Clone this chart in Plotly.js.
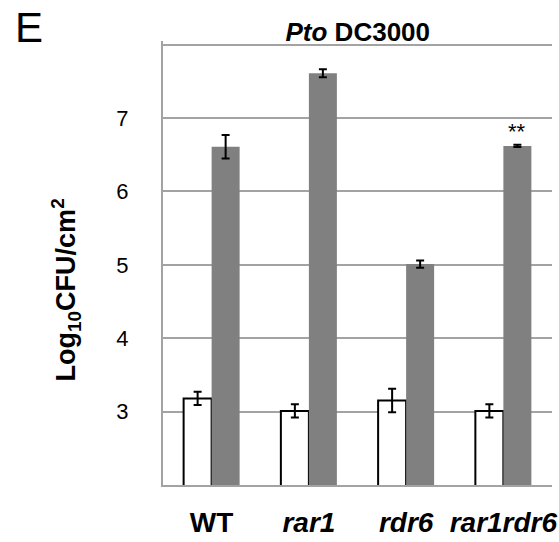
<!DOCTYPE html>
<html>
<head>
<meta charset="utf-8">
<script src="https://cdn.plot.ly/plotly-3.0.1.min.js"></script>
<style>html,body{margin:0;padding:0;background:#fff;}#chart{width:559px;height:542px;}</style>
</head>
<body>
<div id="chart"></div>
<script>
var categories = ['WT', 'rar1', 'rdr6', 'rar1rdr6'];
var tickLabels = ['<b>WT</b>', '<b><i>rar1</i></b>', '<b><i>rdr6</i></b>', '<b><i>rar1rdr6</i></b>'];
var day0Values = [3.18, 3.01, 3.15, 3.01];
var day0Errors = [0.09, 0.09, 0.16, 0.09];
var day3Values = [6.61, 7.61, 5.01, 6.62];
var day3Errors = [0.16, 0.055, 0.05, 0.015];
var yTickVals = [3, 4, 5, 6, 7, 8];
var yTickText = ['3', '4', '5', '6', '7', ''];

var gridColor = '#a3a3a3';
var traces = [
  {
    type: 'bar', x: categories, y: day0Values,
    marker: {color: '#ffffff', line: {color: '#000000', width: 2}},
    error_y: {type: 'data', array: day0Errors, visible: true, color: '#000000', thickness: 2, width: 4},
    hoverinfo: 'skip'
  },
  {
    type: 'bar', x: categories, y: day3Values,
    marker: {color: '#808080', line: {width: 0}},
    error_y: {type: 'data', array: day3Errors, visible: true, color: '#000000', thickness: 2, width: 4},
    hoverinfo: 'skip'
  }
];

var layout = {
  width: 559, height: 542,
  margin: {l: 163, r: 7, t: 41, b: 57},
  paper_bgcolor: '#ffffff', plot_bgcolor: '#ffffff',
  showlegend: false,
  barmode: 'group', bargap: 0.424, bargroupgap: 0,
  font: {family: 'Liberation Sans, Arial, sans-serif', color: '#000000'},
  title: {text: '<b><i>Pto</i> DC3000</b>', font: {size: 26}, x: 0.64, xanchor: 'center', y: 0.942, yanchor: 'middle'},
  xaxis: {
    type: 'category', tickvals: categories, ticktext: tickLabels,
    tickfont: {size: 28}, showgrid: false, showline: true, linecolor: gridColor, linewidth: 2,
    ticks: '', ticklabelstandoff: 11, fixedrange: true
  },
  yaxis: {
    range: [2, 8.05], tickvals: yTickVals, ticktext: yTickText,
    tickfont: {size: 22}, showgrid: true, gridcolor: gridColor, gridwidth: 2,
    showline: true, linecolor: gridColor, linewidth: 2, zeroline: false,
    ticks: '', ticklabelstandoff: 28, fixedrange: true
  },
  annotations: [
    {text: 'E', xref: 'paper', yref: 'paper', x: -0.385, y: 1.03, xanchor: 'left', yanchor: 'middle', showarrow: false, font: {size: 42}},
    {text: '<b>Log<sub>10</sub>CFU/cm<sup>2</sup></b>', xref: 'paper', yref: 'paper', x: -0.25, y: 0.44, xanchor: 'center', yanchor: 'middle', textangle: -90, showarrow: false, font: {size: 27}},
    {text: '**', xref: 'x', yref: 'y', x: 'rar1rdr6', y: day3Values[3] + day3Errors[3], xshift: 14, yshift: -1, yanchor: 'bottom', showarrow: false, font: {size: 22}}
  ]
};

Plotly.newPlot('chart', traces, layout, {displayModeBar: false, staticPlot: true});
</script>
</body>
</html>
